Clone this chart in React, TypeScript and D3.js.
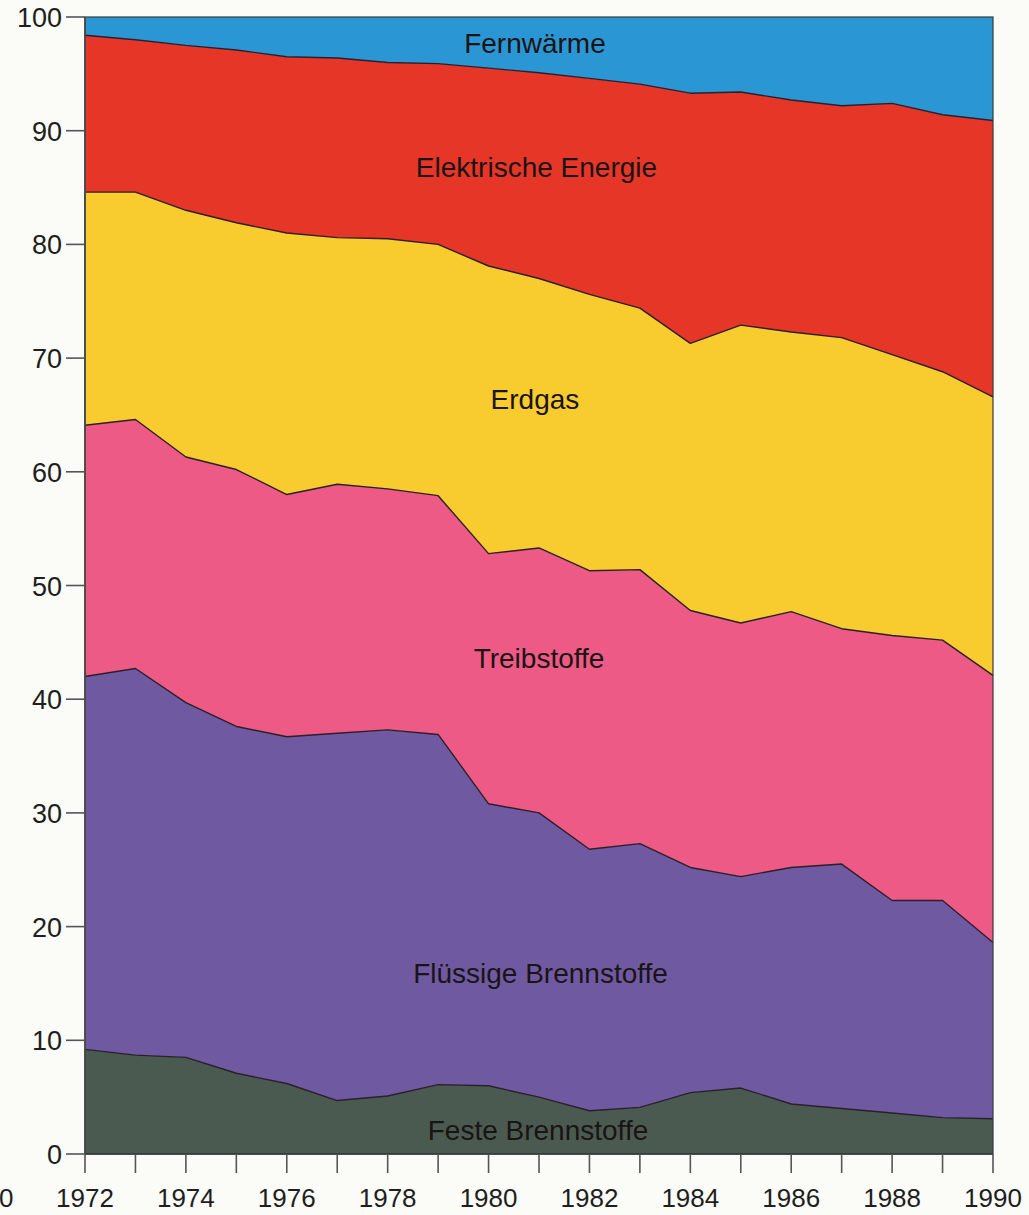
import React from "react";
import * as d3 from "d3";

const years = [1972, 1973, 1974, 1975, 1976, 1977, 1978, 1979, 1980, 1981, 1982, 1983, 1984, 1985, 1986, 1987, 1988, 1989, 1990];

const festeBrennstoffe = [9.2, 8.7, 8.5, 7.1, 6.2, 4.7, 5.1, 6.1, 6.0, 5.0, 3.8, 4.1, 5.4, 5.8, 4.4, 4.0, 3.6, 3.2, 3.1];
const fluessigeBrennstoffe = [32.8, 34.0, 31.2, 30.5, 30.5, 32.3, 32.2, 30.8, 24.8, 25.0, 23.0, 23.2, 19.8, 18.6, 20.8, 21.5, 18.7, 19.1, 15.5];
const treibstoffe = [22.1, 21.9, 21.6, 22.6, 21.3, 21.9, 21.2, 21.0, 22.0, 23.3, 24.5, 24.1, 22.6, 22.3, 22.5, 20.7, 23.3, 22.9, 23.5];
const erdgas = [20.5, 20.0, 21.7, 21.7, 23.0, 21.7, 22.0, 22.1, 25.3, 23.7, 24.3, 23.0, 23.5, 26.2, 24.6, 25.6, 24.7, 23.6, 24.5];
const elektrischeEnergie = [13.8, 13.4, 14.5, 15.2, 15.5, 15.8, 15.5, 15.9, 17.4, 18.1, 19.0, 19.7, 22.0, 20.5, 20.4, 20.4, 22.1, 22.6, 24.3];
const fernwaerme = [1.6, 2.0, 2.5, 2.9, 3.5, 3.6, 4.0, 4.1, 4.5, 4.9, 5.4, 5.9, 6.7, 6.6, 7.3, 7.8, 7.6, 8.6, 9.1];

const seriesKeys = ["feste", "fluessige", "treib", "erdgas", "elektr", "fern"];
const seriesNames = ["Feste Brennstoffe", "Flüssige Brennstoffe", "Treibstoffe", "Erdgas", "Elektrische Energie", "Fernwärme"];
const seriesValues = [festeBrennstoffe, fluessigeBrennstoffe, treibstoffe, erdgas, elektrischeEnergie, fernwaerme];
const seriesColors = ["#4a5a50", "#6f5aa2", "#ec5a85", "#f8cb2e", "#e63628", "#2a97d4"];

const yTicks = [0, 10, 20, 30, 40, 50, 60, 70, 80, 90, 100];
const xLabelYears = [1972, 1974, 1976, 1978, 1980, 1982, 1984, 1986, 1988, 1990];

// label anchor positions in data space: [year, value] (text baseline)
const labelPos: [number, number][] = [
  [1980.98, 1.23],
  [1981.03, 15.07],
  [1981.0, 42.74],
  [1980.92, 65.52],
  [1980.95, 85.95],
  [1980.92, 96.86],
];

const W = 1029;
const H = 1215;

export default function App() {
  const x = d3.scaleLinear().domain([1972, 1990]).range([85, 993]);
  const y = d3.scaleLinear().domain([0, 100]).range([1154, 17]);

  const table = years.map((yr, i) => {
    const row: any = { year: yr };
    seriesKeys.forEach((k, j) => (row[k] = seriesValues[j][i]));
    return row;
  });
  const stacked = d3.stack<any>().keys(seriesKeys)(table);

  const area = d3
    .area<any>()
    .x((d) => x(d.data.year))
    .y0((d) => y(d[0]))
    .y1((d) => y(d[1]));
  const topLine = d3
    .line<any>()
    .x((d) => x(d.data.year))
    .y((d) => y(d[1]));

  const font = "'Liberation Sans', Arial, Helvetica, sans-serif";

  return (
    <svg
      width={W}
      height={H}
      viewBox={`0 0 ${W} ${H}`}
      style={{ position: "absolute", left: 0, top: 0, display: "block", background: "#fbfbf7" }}
    >
      <rect x={0} y={0} width={W} height={H} fill="#fbfbf7" />
      {stacked.map((s, i) => (
        <path key={s.key} d={area(s) || ""} fill={seriesColors[i]} />
      ))}
      {stacked.slice(0, stacked.length - 1).map((s) => (
        <path key={"l" + s.key} d={topLine(s) || ""} fill="none" stroke="#2a1f2a" strokeWidth={1.4} strokeLinejoin="round" />
      ))}
      {/* frame */}
      <rect x={x(1972)} y={y(100)} width={x(1990) - x(1972)} height={y(0) - y(100)} fill="none" stroke="#3a3a3a" strokeWidth={1.2} />
      <line x1={x(1972)} x2={x(1972)} y1={y(100)} y2={y(0)} stroke="#4a4a4a" strokeWidth={1.8} />
      <line x1={x(1972)} x2={x(1990)} y1={y(0)} y2={y(0)} stroke="#3a3a3a" strokeWidth={1.5} />

      {/* y axis */}
      {yTicks.map((t) => (
        <g key={"y" + t}>
          <line x1={66} x2={x(1972)} y1={y(t)} y2={y(t)} stroke="#555" strokeWidth={1.6} />
          <text x={62} y={y(t) + 10} textAnchor="end" fontFamily={font} fontSize={27} fill="#1e1e1e">
            {t}
          </text>
        </g>
      ))}

      {/* x axis ticks */}
      {years.map((yr) => (
        <line key={"xt" + yr} x1={x(yr)} x2={x(yr)} y1={y(0)} y2={y(0) + 19} stroke="#555" strokeWidth={1.6} />
      ))}
      {xLabelYears.map((yr) => (
        <text key={"xl" + yr} x={x(yr)} y={1207} textAnchor="middle" fontFamily={font} fontSize={26} fill="#1e1e1e">
          {yr}
        </text>
      ))}
      <text x={-1} y={1207} textAnchor="start" fontFamily={font} fontSize={26} fill="#1e1e1e">
        0
      </text>

      {/* series labels */}
      {seriesNames.map((n, i) => (
        <text
          key={"n" + i}
          x={x(labelPos[i][0])}
          y={y(labelPos[i][1])}
          textAnchor="middle"
          fontFamily={font}
          fontSize={28}
          fill="#1a1414"
        >
          {n}
        </text>
      ))}
    </svg>
  );
}
